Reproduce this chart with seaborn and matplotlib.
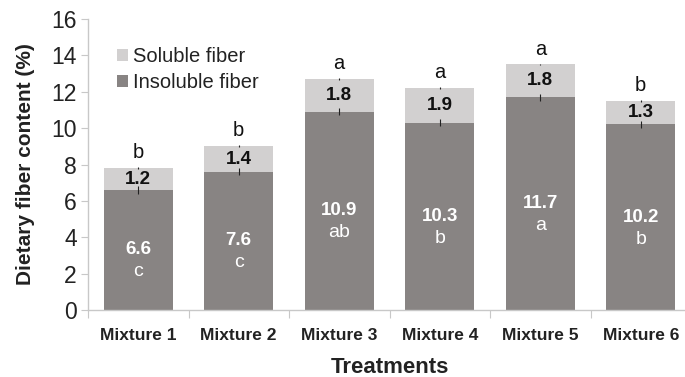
import matplotlib
matplotlib.use("Agg")
import matplotlib.pyplot as plt
import seaborn as sns
import pandas as pd
import numpy as np

treatments = ["Mixture 1", "Mixture 2", "Mixture 3", "Mixture 4", "Mixture 5", "Mixture 6"]
insoluble = [6.6, 7.6, 10.9, 10.3, 11.7, 10.2]
soluble = [1.2, 1.4, 1.8, 1.9, 1.8, 1.3]
insoluble_err = [0.2, 0.2, 0.2, 0.2, 0.2, 0.2]
soluble_err = [0.05, 0.05, 0.05, 0.05, 0.05, 0.05]
insoluble_letters = ["c", "c", "ab", "b", "a", "b"]
soluble_letters = ["b", "b", "a", "a", "a", "b"]

sns.set_style("white")
plt.rcParams["font.family"] = ["Liberation Sans", "DejaVu Sans"]

df = pd.DataFrame({"Treatment": treatments, "Insoluble": insoluble, "Soluble": soluble})
df["Total"] = df["Insoluble"] + df["Soluble"]

c_ins = "#888483"
c_sol = "#d2d0d0"

fig = plt.figure(figsize=(6.85, 3.77), dpi=100)
ax = fig.add_axes([88 / 685, 67 / 377, 603 / 685, 291 / 377])

sns.barplot(data=df, x="Treatment", y="Total", color=c_sol, width=0.69,
            saturation=1, ax=ax, label="Soluble fiber", linewidth=0)
sns.barplot(data=df, x="Treatment", y="Insoluble", color=c_ins, width=0.69,
            saturation=1, ax=ax, label="Insoluble fiber", linewidth=0)

xpos = np.arange(len(treatments))
ax.errorbar(xpos, df["Insoluble"], yerr=insoluble_err, fmt="none", ecolor="#222222",
            elinewidth=0.8, capsize=0)
ax.errorbar(xpos, df["Total"], yerr=soluble_err, fmt="none", ecolor="#222222",
            elinewidth=0.8, capsize=0)

for i in range(len(treatments)):
    ins = insoluble[i]
    tot = df["Total"].iloc[i]
    ax.text(i, ins / 2, f"{ins:.1f}", ha="center", va="center", color="white",
            fontsize=13.5, fontweight="bold")
    ax.text(i, ins / 2 - 1.2, insoluble_letters[i], ha="center", va="center",
            color="white", fontsize=14)
    ax.text(i, ins + soluble[i] / 2, f"{soluble[i]:.1f}", ha="center", va="center",
            color="#111111", fontsize=13.5, fontweight="bold")
    ax.text(i, tot + 0.85, soluble_letters[i], ha="center", va="center",
            color="#111111", fontsize=14.5)

ax.set_ylim(0, 16)
ax.set_xlim(-0.5, 5.5)
ax.set_yticks(range(0, 17, 2))
ax.tick_params(axis="y", labelsize=16.5, length=5, color="#c8c8c8", direction="out",
               left=True, pad=3, labelcolor="#222222")

ax.set_xticks(np.arange(-0.5, 6.0, 1.0))
ax.set_xticklabels([])
ax.set_xticks(xpos, minor=True)
ax.set_xticklabels(treatments, minor=True, fontsize=12.5, fontweight="bold", color="#222222")
ax.tick_params(axis="x", which="major", length=6, color="#c8c8c8", direction="out", bottom=True)
ax.tick_params(axis="x", which="minor", length=0, pad=13)

ax.set_xlabel("Treatments", fontsize=16, fontweight="bold", color="#222222", labelpad=10)
ax.set_ylabel("Dietary fiber content (%)", fontsize=15, fontweight="bold", color="#222222",
              labelpad=12)

for side in ["top", "right"]:
    ax.spines[side].set_visible(False)
for side in ["left", "bottom"]:
    ax.spines[side].set_color("#c8c8c8")
    ax.spines[side].set_linewidth(1.0)

handles, labels = ax.get_legend_handles_labels()
ax.legend(handles, labels, loc="upper left", bbox_to_anchor=(0.035, 0.93), frameon=False,
          fontsize=14.5, handlelength=0.55, handleheight=0.55, handletextpad=0.25,
          labelspacing=0.35, labelcolor="#222222", borderaxespad=0)

fig.savefig("out.png", dpi=100)
